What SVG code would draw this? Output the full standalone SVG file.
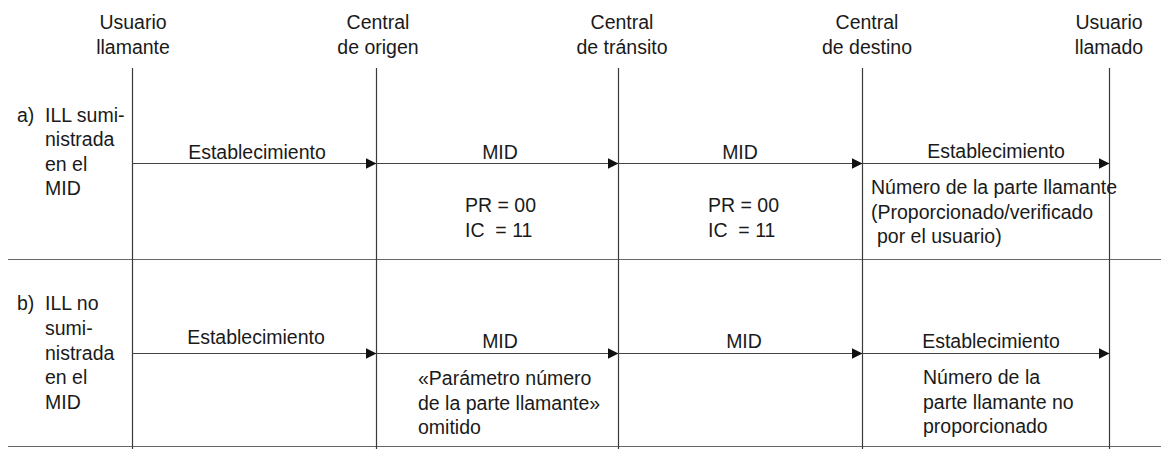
<svg xmlns="http://www.w3.org/2000/svg" width="1161" height="449" viewBox="0 0 1161 449">
<style>
text{font-family:"Liberation Sans",Arial,sans-serif;font-size:19.5px;fill:#1a1a1a}
.c{text-anchor:middle}
.life{stroke:#3a3a3a;stroke-width:1.2}
.sep{stroke:#666;stroke-width:1.2}
.msg{stroke:#444;stroke-width:1.2;fill:none}
</style>
<defs>
<marker id="ah" markerUnits="userSpaceOnUse" markerWidth="12" markerHeight="12" refX="11" refY="6" orient="auto">
<path d="M0,0.5 L11,6 L0,11.5 z" fill="#111"/>
</marker>
</defs>
<rect width="1161" height="449" fill="#fff"/>
<g id="separators">
<line class="sep" x1="8" y1="259.5" x2="1161" y2="259.5"/>
<line class="sep" x1="8" y1="446.5" x2="1161" y2="446.5"/>
</g>
<g id="usuario-llamante">
<text class="c" x="133" y="29">Usuario</text>
<text class="c" x="133" y="54">llamante</text>
<line class="life" x1="132.5" y1="68" x2="132.5" y2="449"/>
</g>
<g id="central-origen">
<text class="c" x="378" y="29">Central</text>
<text class="c" x="378" y="54">de origen</text>
<line class="life" x1="376.5" y1="68" x2="376.5" y2="449"/>
</g>
<g id="central-transito">
<text class="c" x="622" y="29">Central</text>
<text class="c" x="622" y="54">de tránsito</text>
<line class="life" x1="618.5" y1="68" x2="618.5" y2="449"/>
</g>
<g id="central-destino">
<text class="c" x="867" y="29">Central</text>
<text class="c" x="867" y="54">de destino</text>
<line class="life" x1="862.5" y1="68" x2="862.5" y2="449"/>
</g>
<g id="usuario-llamado">
<text class="c" x="1109" y="29">Usuario</text>
<text class="c" x="1109" y="54">llamado</text>
<line class="life" x1="1109.5" y1="68" x2="1109.5" y2="449"/>
</g>
<g id="connectors">
<line class="msg" x1="132.5" y1="163.5" x2="376.5" y2="163.5" marker-end="url(#ah)"/>
<line class="msg" x1="376.5" y1="163.5" x2="618.5" y2="163.5" marker-end="url(#ah)"/>
<line class="msg" x1="618.5" y1="163.5" x2="862.5" y2="163.5" marker-end="url(#ah)"/>
<line class="msg" x1="862.5" y1="163.5" x2="1109.5" y2="163.5" marker-end="url(#ah)"/>
<line class="msg" x1="132.5" y1="353.5" x2="376.5" y2="353.5" marker-end="url(#ah)"/>
<line class="msg" x1="376.5" y1="353.5" x2="618.5" y2="353.5" marker-end="url(#ah)"/>
<line class="msg" x1="618.5" y1="353.5" x2="862.5" y2="353.5" marker-end="url(#ah)"/>
<line class="msg" x1="862.5" y1="353.5" x2="1109.5" y2="353.5" marker-end="url(#ah)"/>
</g>
<g id="row-a-label">
<text x="17" y="121.5">a)</text>
<text x="45" y="121.5">ILL sumi-</text>
<text x="45" y="146">nistrada</text>
<text x="45" y="170.5">en el</text>
<text x="45" y="195">MID</text>
</g>
<g id="row-a-messages">
<text class="c" x="257" y="158.5">Establecimiento</text>
<text class="c" x="500" y="158.5">MID</text>
<text class="c" x="740" y="158.5">MID</text>
<text class="c" x="996" y="157.5">Establecimiento</text>
<text x="465" y="211.5">PR = 00</text>
<text x="465" y="237">IC&#160; = 11</text>
<text x="708" y="211.5">PR = 00</text>
<text x="708" y="237">IC&#160; = 11</text>
<text x="871" y="194">Número de la parte llamante</text>
<text x="871" y="218.5">(Proporcionado/verificado</text>
<text x="877" y="243">por el usuario)</text>
</g>
<g id="row-b-label">
<text x="17" y="310">b)</text>
<text x="45" y="310">ILL no</text>
<text x="45" y="335">sumi-</text>
<text x="45" y="359.5">nistrada</text>
<text x="45" y="384">en el</text>
<text x="45" y="409">MID</text>
</g>
<g id="row-b-messages">
<text class="c" x="256" y="343.5">Establecimiento</text>
<text class="c" x="500" y="348">MID</text>
<text class="c" x="744" y="348">MID</text>
<text class="c" x="991" y="348">Establecimiento</text>
<text x="418" y="385">«Parámetro número</text>
<text x="418" y="410">de la parte llamante»</text>
<text x="418" y="434">omitido</text>
<text x="923" y="384">Número de la</text>
<text x="923" y="408.5">parte llamante no</text>
<text x="923" y="432.5">proporcionado</text>
</g>
</svg>
